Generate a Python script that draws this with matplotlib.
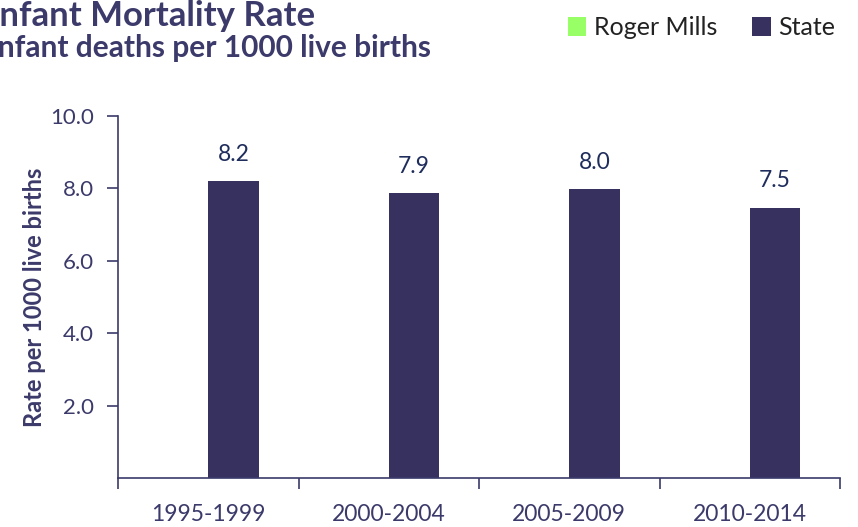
import numpy as np
import matplotlib.pyplot as plt

periods = ["1995-1999", "2000-2004", "2005-2009", "2010-2014"]
roger_mills = [np.nan, np.nan, np.nan, np.nan]
state = [8.21, 7.86, 7.97, 7.47]

navy = "#37315f"
text_navy = "#3b3a6a"
green = "#99ff66"

plt.rcParams['font.family'] = ['Lato', 'DejaVu Sans']

fig = plt.figure(figsize=(8.58, 5.27), dpi=100)
ax = fig.add_axes([118 / 858, 1 - 478 / 527, 722 / 858, 362 / 527])

x = np.arange(len(periods))
w = 0.28
ax.bar(x - w / 2, roger_mills, w, color=green, label="Roger Mills")
bars = ax.bar(x + w / 2, state, w, color=navy, label="State")

for b, v in zip(bars, state):
    ax.text(b.get_x() + b.get_width() / 2, v + 0.45, f"{v:.1f}",
            ha="center", va="bottom", fontsize=16.5, color="#1f2d5c")

ax.set_xlim(-0.5, 3.5)
ax.set_ylim(0, 10)
ax.set_yticks([2, 4, 6, 8, 10])
ax.set_yticklabels([f"{t:.1f}" for t in [2, 4, 6, 8, 10]])
ax.set_xticks(x)
ax.set_xticklabels(periods)
ax.set_xticks(np.arange(-0.5, 4, 1), minor=True)

for s in ["top", "right"]:
    ax.spines[s].set_visible(False)
for s in ["left", "bottom"]:
    ax.spines[s].set_color(text_navy)
    ax.spines[s].set_linewidth(1.2)

ax.tick_params(axis="y", length=8, width=1.2, color=text_navy, pad=9.5,
               labelsize=16, labelcolor=text_navy)
ax.tick_params(axis="x", which="major", length=0, pad=19,
               labelsize=16.5, labelcolor=text_navy)
ax.tick_params(axis="x", which="minor", length=8, width=1.2, color=text_navy)

ax.set_ylabel("Rate per 1000 live births", fontsize=17, fontweight="bold",
              color=text_navy, labelpad=3)

fig.text(-0.013, 1.0, "Infant Mortality Rate", fontsize=25, fontweight="bold",
         color=text_navy, va="top", ha="left")
fig.text(-0.013, 0.935, "Infant deaths per 1000 live births", fontsize=21.5,
         fontweight="bold", color=text_navy, va="top", ha="left")

leg = fig.legend(loc="upper right", bbox_to_anchor=(1.0, 1.012), ncol=2,
                 frameon=False, fontsize=18, handlelength=0.75, handleheight=0.75,
                 handletextpad=0.3, columnspacing=1.4)
for t in leg.get_texts():
    t.set_color("#222222")

fig.savefig("out.png", dpi=100)
